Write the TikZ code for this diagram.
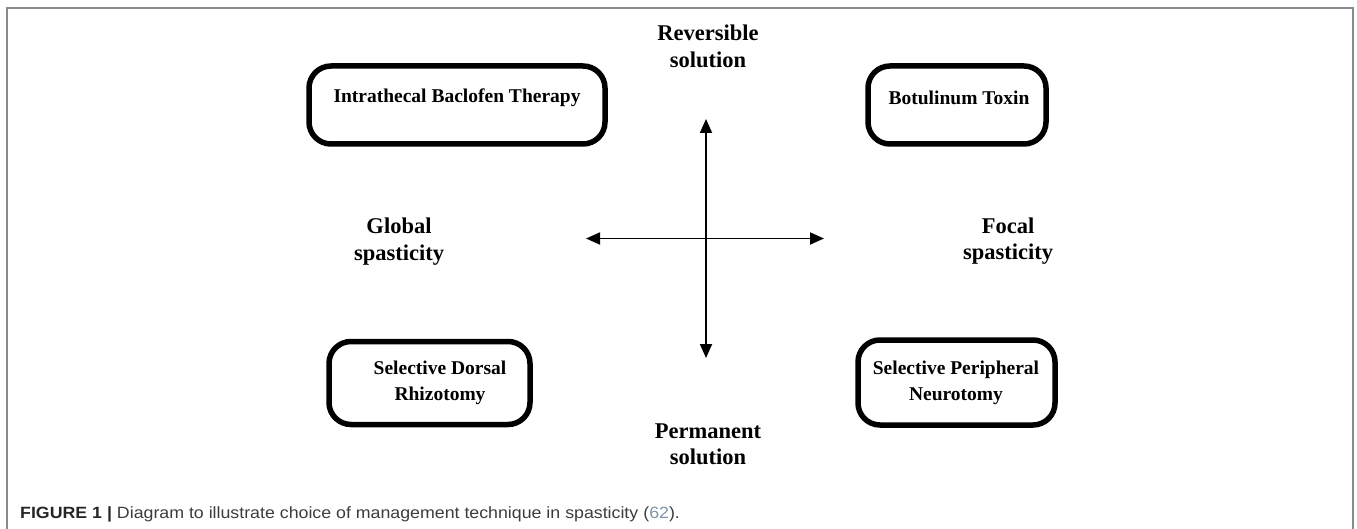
\documentclass[tikz,border=0pt]{standalone}
\usepackage{fontspec}
\setmainfont{Liberation Serif}
\newfontfamily\capfont[FakeStretch=1.09]{Liberation Sans}
\usetikzlibrary{arrows.meta}
\definecolor{framegray}{HTML}{8A8A8A}
\definecolor{captxt}{HTML}{3C3C3C}
\definecolor{capref}{HTML}{7F93AD}
\tikzset{
  boxstyle/.style={draw=black, line width=5.5pt, rounded corners=22pt, inner sep=0pt},
  boxtext/.style={font=\fontsize{19.5}{26}\selectfont\bfseries, align=center, inner sep=0pt},
  axislabel/.style={font=\fontsize{22.5}{26.5}\selectfont\bfseries, align=center, inner sep=0pt},
  axisarrow/.style={line width=1.8pt, {Triangle[length=14pt,width=12pt]}-{Triangle[length=14pt,width=12pt]}},
}
\begin{document}
\begin{tikzpicture}[x=1pt,y=-1pt]
\useasboundingbox (0,0) rectangle (1357,529);
\begin{scope}
\clip (0,0) rectangle (1357,529);
\draw[framegray, line width=1.3pt] (7,545) -- (7,8) -- (1353,8) -- (1353,545);
\end{scope}

% boxes
\node[boxstyle, minimum width=296pt, minimum height=78pt] (itb) at (457,105) {};
\node[boxtext] (itbt) at (457,98) {Intrathecal Baclofen Therapy};
\node[boxstyle, minimum width=178pt, minimum height=78pt] (bot) at (957,105) {};
\node[boxtext] (bott) at (959,98) {Botulinum Toxin};
\node[boxstyle, minimum width=201pt, minimum height=83pt] (sdr) at (429.5,383) {};
\node[boxtext] (sdrt) at (440,383) {Selective Dorsal\\Rhizotomy};
\node[boxstyle, minimum width=197pt, minimum height=85pt] (spn) at (956.5,382.5) {};
\node[boxtext] (spnt) at (956,383) {Selective Peripheral\\Neurotomy};

% axis labels
\node[axislabel] (rev) at (708,46.5) {Reversible\\solution};
\node[axislabel] (perm) at (708,444.5) {Permanent\\solution};
\node[axislabel] (glob) at (399,241.5) {Global\\spasticity};
\node[axislabel] (foc) at (1008,241) {Focal\\spasticity};

% axes
\coordinate (vtop) at (706,119);
\coordinate (vbot) at (706,358);
\coordinate (hleft) at (586,238.5);
\coordinate (hright) at (824,238.5);
\draw[axisarrow] (vbot) -- (vtop);
\draw[axisarrow] (hleft) -- (hright);

% caption
\node[anchor=base west, inner sep=0pt, font=\capfont\fontsize{16.3}{19}\selectfont, text=captxt] (cap) at (20,518)
  {\textcolor{black!85}{\bfseries FIGURE 1 |} Diagram to illustrate choice of management technique in spasticity (\textcolor{capref}{62}).};
\end{tikzpicture}
\end{document}
